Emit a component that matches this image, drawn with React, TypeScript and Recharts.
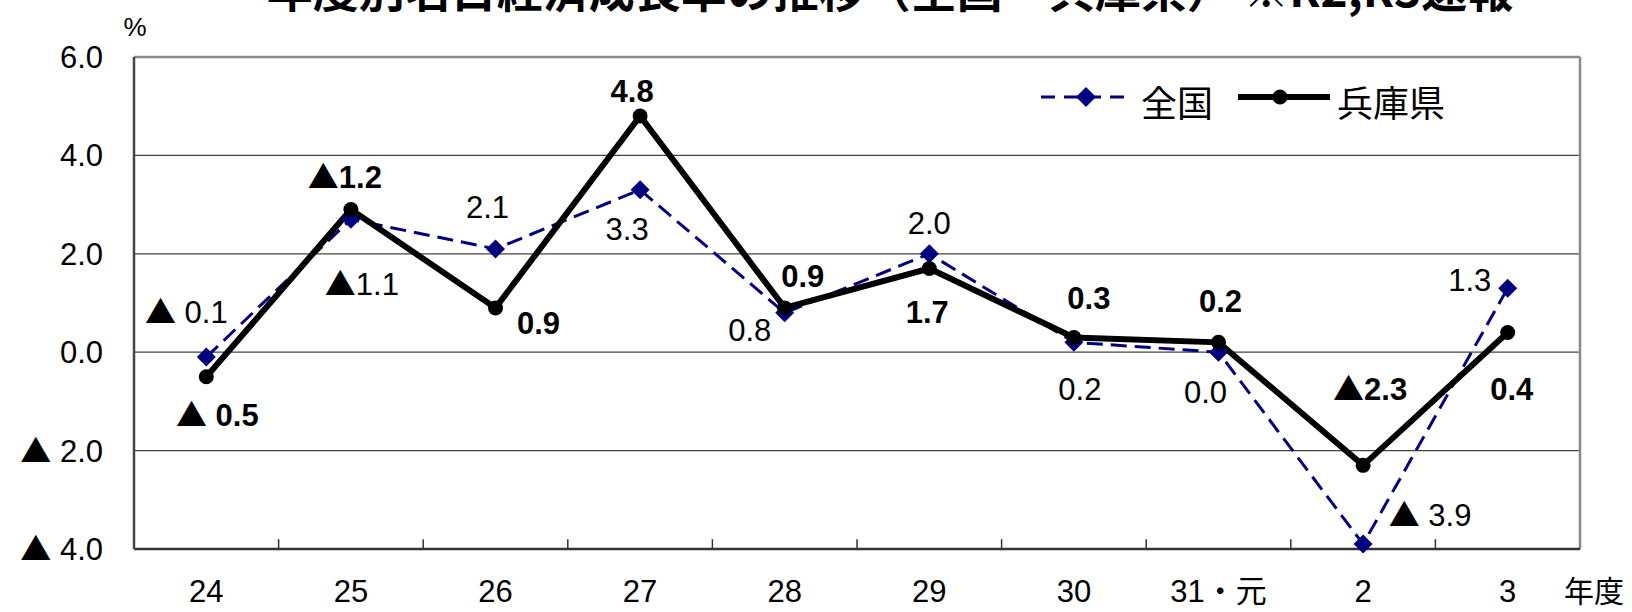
import {
  LineChart,
  Line,
  XAxis,
  YAxis,
  CartesianGrid,
  ReferenceLine,
  LabelList,
} from "recharts";

const years = ["24", "25", "26", "27", "28", "29", "30", "31・元", "2", "3"];
const national = [-0.1, 2.7, 2.1, 3.3, 0.8, 2.0, 0.2, 0.0, -3.9, 1.3];
const hyogo = [-0.5, 2.9, 0.9, 4.8, 0.9, 1.7, 0.3, 0.2, -2.3, 0.4];
const nationalLabels = ["▲ 0.1", "▲1.1", "2.1", "3.3", "0.8", "2.0", "0.2", "0.0", "▲ 3.9", "1.3"];
const hyogoLabels = ["▲ 0.5", "▲1.2", "0.9", "4.8", "0.9", "1.7", "0.3", "0.2", "▲2.3", "0.4"];
const yTicks = [-4, -2, 0, 2, 4, 6];

// label placement relative to each point (centre of text)
const nationalOffsets = [
  [-20, -45], [11, 65], [-8, -42], [-13, 39], [-35, 17],
  [0, -31], [6, 47], [-13, 40], [67, -29], [-38, -8],
];
const hyogoOffsets = [
  [11, 38], [-6, -33], [43, 15], [-8, -25], [18, -32],
  [-2, 43], [15, -39], [2, -41], [7, -76], [4, 56],
];

const data = years.map((year, i) => ({
  x: i + 0.5,
  year,
  national: national[i],
  hyogo: hyogo[i],
  nLabel: nationalLabels[i],
  hLabel: hyogoLabels[i],
}));

const NUM_FONT = "'Liberation Sans', Arial, 'Noto Sans CJK JP', sans-serif";
const JP_FONT = "'Noto Sans CJK JP', 'Liberation Sans', sans-serif";
const NAVY = "#000080";

// splits a "▲" prefix off so the triangle can use the full-width CJK glyph
function NumText({ text }: { text: string }) {
  if (text.startsWith("▲")) {
    return (
      <>
        <tspan fontFamily={JP_FONT} fontWeight="normal">▲</tspan>
        <tspan>{text.slice(1)}</tspan>
      </>
    );
  }
  return <>{text}</>;
}

const fmtY = (v: number) => (v < 0 ? "▲ " + Math.abs(v).toFixed(1) : v.toFixed(1));

function YTick(props: any) {
  const { x, y, payload } = props;
  return (
    <text x={x - 31} y={y + 11} textAnchor="end" fontSize={31} fontFamily={NUM_FONT} fill="#000">
      <NumText text={fmtY(payload.value)} />
    </text>
  );
}

function XTick(props: any) {
  const { x, y, payload } = props;
  const name = years[Math.floor(payload.value)];
  return (
    <text x={x} y={y + 53} textAnchor="middle" fontSize={31} fontFamily={NUM_FONT} fill="#000">
      {name}
    </text>
  );
}

function Diamond(props: any) {
  const { cx, cy } = props;
  const s = 9.5;
  return (
    <polygon
      points={`${cx},${cy - s} ${cx + s},${cy} ${cx},${cy + s} ${cx - s},${cy}`}
      fill={NAVY}
    />
  );
}

function makeLabel(offsets: number[][], bold: boolean) {
  return (props: any) => {
    const { x, y, value, index } = props;
    const [dx, dy] = offsets[index] || [0, 0];
    return (
      <text
        x={x + dx}
        y={y + dy + 11}
        textAnchor="middle"
        fontSize={31}
        fontWeight={bold ? "bold" : "normal"}
        fontFamily={NUM_FONT}
        fill="#000"
      >
        <NumText text={String(value)} />
      </text>
    );
  };
}

export default function App() {
  return (
    <div style={{ position: "absolute", left: 0, top: 0, width: 1632, height: 612, background: "#fff" }}>
      <LineChart
        width={1632}
        height={612}
        data={data}
        margin={{ top: 57, right: 52, bottom: 0, left: 0 }}
      >
        <CartesianGrid horizontal vertical={false} stroke="#444" strokeWidth={1.2} />
        <XAxis
          dataKey="x"
          type="number"
          domain={[0, 10]}
          ticks={data.map((d) => d.x)}
          tick={<XTick />}
          tickLine={false}
          tickSize={0}
          tickMargin={0}
          height={63}
          axisLine={{ stroke: "#333", strokeWidth: 2.5 }}
          interval={0}
        />
        <YAxis
          type="number"
          domain={[-4, 6]}
          ticks={yTicks}
          tick={<YTick />}
          tickLine={false}
          tickSize={0}
          tickMargin={0}
          width={134}
          axisLine={{ stroke: "#444", strokeWidth: 2.5 }}
          interval={0}
        />
        <ReferenceLine y={6} stroke="#888" strokeWidth={2.5} />
        <ReferenceLine x={10} stroke="#888" strokeWidth={2.5} />
        {years.slice(1).map((_, i) => (
          <ReferenceLine
            key={"t" + i}
            segment={[
              { x: i + 1, y: -4 },
              { x: i + 1, y: -3.8 },
            ]}
            stroke="#333"
            strokeWidth={1.5}
          />
        ))}
        <Line
          type="linear"
          dataKey="national"
          stroke={NAVY}
          strokeWidth={3}
          strokeDasharray="16 8"
          dot={(p: any) => <Diamond key={"dn" + p.index} {...p} />}
          activeDot={false}
          isAnimationActive={false}
        >
          <LabelList dataKey="nLabel" content={makeLabel(nationalOffsets, false)} />
        </Line>
        <Line
          type="linear"
          dataKey="hyogo"
          stroke="#000"
          strokeWidth={6}
          dot={{ r: 7.5, fill: "#000", stroke: "#000", strokeWidth: 0 }}
          activeDot={false}
          isAnimationActive={false}
        >
          <LabelList dataKey="hLabel" content={makeLabel(hyogoOffsets, true)} />
        </Line>
      </LineChart>
      <svg
        width={1632}
        height={612}
        style={{ position: "absolute", left: 0, top: 0, pointerEvents: "none" }}
      >
        <text x={890} y={7} textAnchor="middle" fontSize={46} fontWeight="bold" fontFamily={JP_FONT} fill="#000">
          年度別名目経済成長率の推移（全国・兵庫県） ※R2,R3速報
        </text>
        <text x={135} y={36} textAnchor="middle" fontSize={26} fontFamily={NUM_FONT} fill="#000">
          %
        </text>
        <text x={1594} y={589} textAnchor="middle" dominantBaseline="central" fontSize={30} fontFamily={JP_FONT} fill="#000">
          年度
        </text>
        {/* legend */}
        <g transform="translate(1030,70)">
          <line x1={11} y1={27} x2={102} y2={27} stroke={NAVY} strokeWidth={3} strokeDasharray="14 9" />
          <polygon points="56,17 66,27 56,37 46,27" fill={NAVY} />
          <text x={111} y={31} dominantBaseline="central" fontSize={36} fontFamily={JP_FONT} fill="#000">
            全国
          </text>
          <line x1={208} y1={27} x2={300} y2={27} stroke="#000" strokeWidth={6} />
          <circle cx={250} cy={27} r={7.5} fill="#000" />
          <text x={307} y={31} dominantBaseline="central" fontSize={36} fontFamily={JP_FONT} fill="#000">
            兵庫県
          </text>
        </g>
      </svg>
    </div>
  );
}
